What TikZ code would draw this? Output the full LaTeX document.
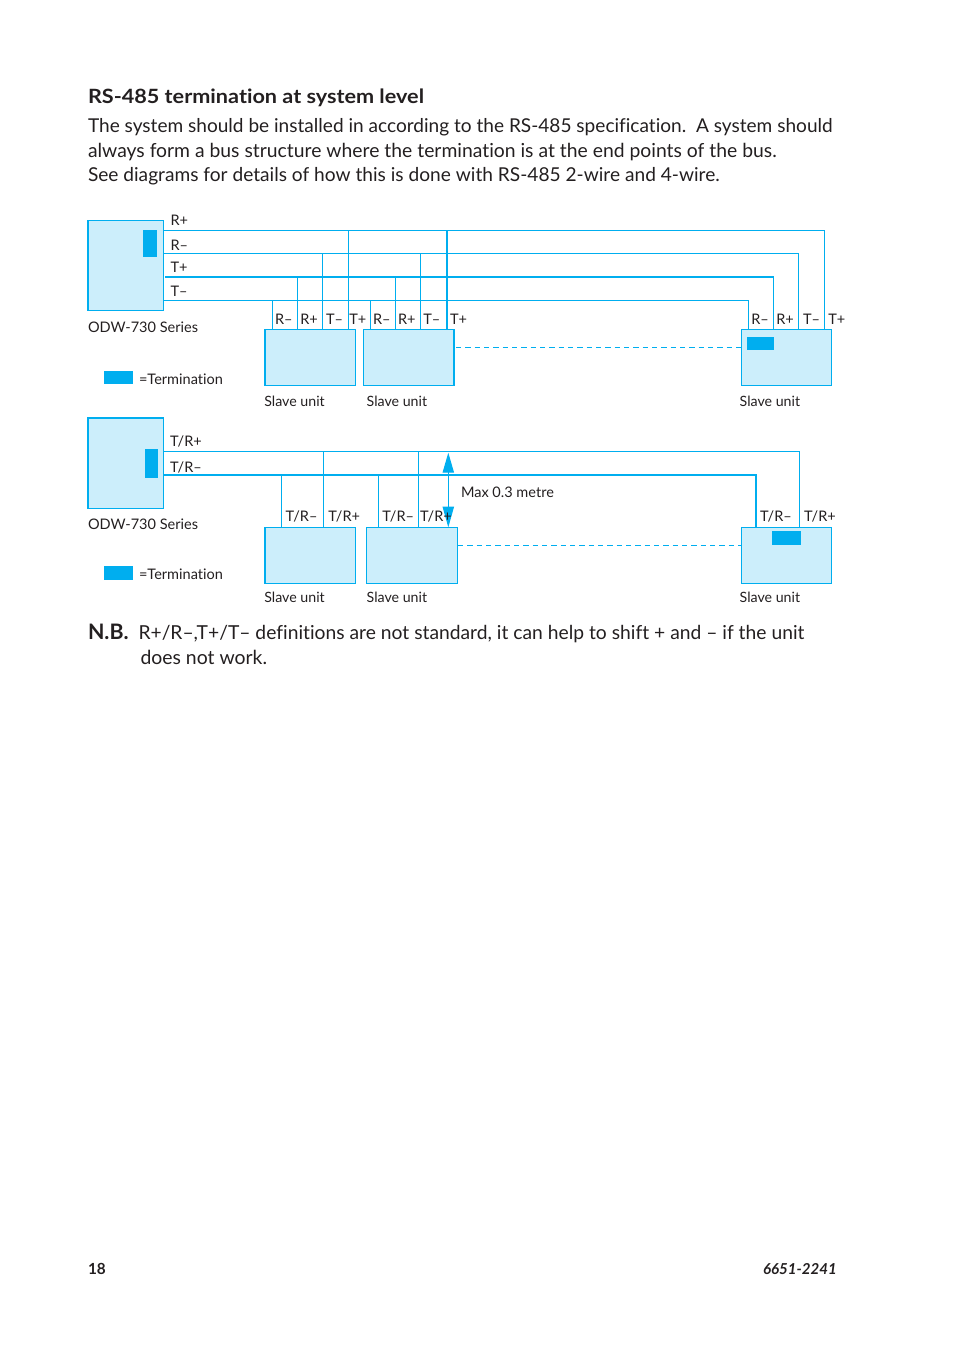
\documentclass[tikz,border=0pt]{standalone}
\usepackage{fontspec}
\setmainfont{Lato}[Ligatures=NoCommon]
\usetikzlibrary{arrows.meta}
\definecolor{linecol}{HTML}{00AEEF}
\definecolor{boxcol}{HTML}{CCEEFB}
\definecolor{inkcol}{HTML}{231F20}
\tikzstyle{master}=[rectangle,draw=linecol,fill=boxcol,line width=0.8pt,anchor=north west,minimum width=56.6pt,minimum height=67.7pt,inner sep=0pt,outer sep=0pt]
\tikzstyle{unit}=[rectangle,draw=linecol,fill=boxcol,line width=0.8pt,anchor=north west,minimum height=42.2pt,inner sep=0pt,outer sep=0pt]
\tikzstyle{term}=[rectangle,fill=linecol,anchor=north west,inner sep=0pt,outer sep=0pt]
\tikzstyle{wire}=[draw=linecol,line width=0.8pt]
\tikzstyle{bus}=[draw=linecol,line width=1.6pt]
\tikzstyle{gap}=[draw=linecol,line width=0.7pt,dash pattern=on 4pt off 3pt]
\tikzstyle{lab}=[anchor=base west,inner sep=0pt,outer sep=0pt,text=inkcol,font=\fontsize{10.9pt}{12pt}\selectfont]
\tikzstyle{slave}=[lab,font=\fontsize{10.65pt}{12pt}\selectfont]
\tikzstyle{body}=[anchor=base west,inner sep=0pt,outer sep=0pt,text=inkcol,font=\fontsize{14.35pt}{18pt}\selectfont]

\begin{document}
\begin{tikzpicture}[x=0.75pt,y=-0.75pt]
\useasboundingbox (0,0) rectangle (954,1354);

% page text
\node[body,font=\fontsize{14.75pt}{18pt}\selectfont\bfseries\addfontfeature{FakeStretch=1.1}] at (88,103) (head) {RS-485 termination at system level};
\node[body,font=\fontsize{14.3pt}{18pt}\selectfont] at (88,132) (line1) {The system should be installed in according to the RS-485 specification.\ \ A system should};
\node[body,font=\fontsize{14.5pt}{18pt}\selectfont] at (88,157) (line2) {always form a bus structure where the termination is at the end points of the bus.};
\node[body] at (88,181) (line3) {See diagrams for details of how this is done with RS-485 2-wire and 4-wire.};
\node[body,font=\fontsize{16pt}{18pt}\selectfont\bfseries] at (88,639) (nb) {N.B.};
\node[body,font=\fontsize{14.45pt}{18pt}\selectfont] at (138.5,639) (line4) {R+/R--,T+/T-- definitions are not standard, it can help to shift + and -- if the unit};
\node[body,font=\fontsize{14.55pt}{18pt}\selectfont] at (140.5,664) (line5) {does not work.};
\node[lab,font=\fontsize{11.5pt}{12pt}\selectfont\bfseries] at (88,1274) (page) {18};
\node[lab,font=\fontsize{11.3pt}{12pt}\selectfont\bfseries\itshape] at (763,1274) (docno) {6651-2241};

% 4-wire
\node[master] at (88,220.5) (m1) {};
\node[term,minimum width=10.5pt,minimum height=20.2pt] at (143,230) (t1) {};
\node[unit,minimum width=67.9pt] at (265,329.3) (a) {};
\node[unit,minimum width=68.2pt] at (363.3,329.3) (b) {};
\node[unit,minimum width=67.5pt] at (741.6,329.3) (c) {};
\node[term,minimum width=20.2pt,minimum height=9.5pt] at (747,337) (t2) {};
\node[term,minimum width=21.8pt,minimum height=9.8pt] at (104,371) (t3) {};

\coordinate (a1) at (272.3,300.5);
\coordinate (a2) at (297.3,276.7);
\coordinate (a3) at (322.3,253.5);
\coordinate (a4) at (348.3,230.5);
\coordinate (b1) at (370.3,300.5);
\coordinate (b2) at (395.3,276.7);
\coordinate (b3) at (420.3,253.5);
\coordinate (b4) at (446.7,230.5);
\coordinate (c1) at (748.5,300.5);
\coordinate (c2) at (773.5,276.7);
\coordinate (c3) at (798.5,253.5);
\coordinate (c4) at (824.5,230.5);
\coordinate (s1) at (165,276.7);
\coordinate (g1) at (456,347.3);

\draw[wire] (m1.east |- c4) -- (c4) -- (c4 |- c.north);
\draw[wire] (m1.east |- c3) -- (c3) -- (c3 |- c.north);
\draw[wire] (m1.east |- c1) -- (c1) -- (c1 |- c.north);
\draw[bus] (s1) -- (c2);
\draw[wire] (c2) -- (c2 |- c.north);
\draw[wire] (a1) -- (a1 |- a.north);
\draw[wire] (a2) -- (a2 |- a.north);
\draw[wire] (a3) -- (a3 |- a.north);
\draw[wire] (a4) -- (a4 |- a.north);
\draw[wire] (b1) -- (b1 |- b.north);
\draw[wire] (b2) -- (b2 |- b.north);
\draw[wire] (b3) -- (b3 |- b.north);
\draw[bus] (b4) -- (b4 |- b.north);
\draw[bus] (b.north east) -- (b.south east);
\draw[gap] (g1) -- (g1 -| c.west);

\node[lab] at (170.5,225.7) (rp) {R+};
\node[lab] at (170.5,250) (rm) {R--};
\node[lab] at (170.5,272.7) (tp) {T+};
\node[lab] at (170.5,296) (tm) {T--};
\node[lab] at (275,324) (a5) {R--};
\node[lab] at (300.3,324) (a6) {R+};
\node[lab] at (326,324) (a7) {T--};
\node[lab] at (349.3,324) (a8) {T+};
\node[lab] at (373,324) (b5) {R--};
\node[lab] at (398,324) (b6) {R+};
\node[lab] at (423.3,324) (b7) {T--};
\node[lab] at (450,324) (b8) {T+};
\node[lab] at (751.3,324) (c5) {R--};
\node[lab] at (776.3,324) (c6) {R+};
\node[lab] at (803,324) (c7) {T--};
\node[lab] at (828.3,324) (c8) {T+};
\node[lab] at (88,332.5) (odw1) {ODW-730 Series};
\node[lab] at (139,384.3) (key1) {=Termination};
\node[slave] at (264.3,406) (an) {Slave unit};
\node[slave] at (366.7,406) (bn) {Slave unit};
\node[slave] at (739.7,406) (cn) {Slave unit};

% 2-wire
\node[master,minimum height=68.2pt] at (88,417.7) (m2) {};
\node[term,minimum width=9.8pt,minimum height=21.8pt] at (145,449) (t4) {};
\node[unit,minimum width=67.9pt] at (265,527.3) (d) {};
\node[unit,minimum width=68.5pt] at (366.3,527.3) (e) {};
\node[unit,minimum width=67.5pt] at (741.5,527.3) (f) {};
\node[term,minimum width=21.8pt,minimum height=10.5pt] at (772,531) (t5) {};
\node[term,minimum width=21.8pt,minimum height=10.5pt] at (104,566) (t6) {};

\coordinate (d1) at (281.3,475);
\coordinate (d2) at (323.3,451.3);
\coordinate (e1) at (378.3,475);
\coordinate (e2) at (418.3,451.3);
\coordinate (f1) at (756,475);
\coordinate (f2) at (799.5,451.3);
\coordinate (h1) at (448.3,452.7);
\coordinate (g2) at (458,545.4);

\draw[bus] (m2.north west) -- (m2.north east);
\draw[wire] (m2.east |- f2) -- (f2) -- (f2 |- f.north);
\draw[bus] (m2.east |- f1) -- (f1) -- (f1 |- f.north);
\draw[wire] (d1) -- (d1 |- d.north);
\draw[wire] (d2) -- (d2 |- d.north);
\draw[wire] (e1) -- (e1 |- e.north);
\draw[wire] (e2) -- (e2 |- e.north);
\draw[wire,{Triangle[length=15pt,width=8.5pt]}-{Triangle[length=15.5pt,width=8.5pt]}] (h1) -- (h1 |- e.north);
\draw[gap] (g2) -- (g2 -| f.west);

\node[lab] at (170,446.7) (trp) {T/R+};
\node[lab] at (170,472) (trm) {T/R--};
\node[lab] at (461,497.3) (max) {Max 0.3 metre};
\node[lab] at (285.7,521) (d5) {T/R--};
\node[lab] at (328.3,521) (d6) {T/R+};
\node[lab] at (382.3,521) (e5) {T/R--};
\node[lab] at (420,521) (e6) {T/R+};
\node[lab] at (760,521) (f5) {T/R--};
\node[lab] at (804,521) (f6) {T/R+};
\node[lab] at (88,529.5) (odw2) {ODW-730 Series};
\node[lab] at (139,579.3) (key2) {=Termination};
\node[slave] at (264.3,602) (dn) {Slave unit};
\node[slave] at (366.7,602) (en) {Slave unit};
\node[slave] at (739.7,602) (fn) {Slave unit};
\end{tikzpicture}
\end{document}
